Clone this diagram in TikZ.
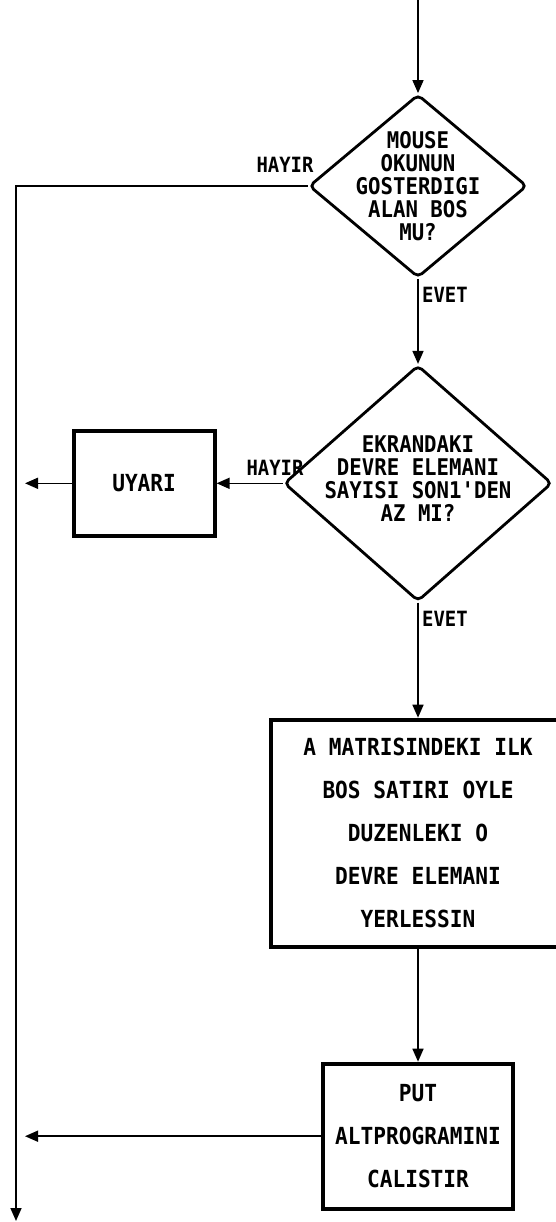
\documentclass[tikz,border=0pt]{standalone}
\usepackage{fontspec}
\newfontfamily\flowfont[FakeStretch=0.9]{DejaVu Sans Mono}
\usetikzlibrary{positioning,arrows.meta,shapes.geometric}

\begin{document}
\begin{tikzpicture}[x=1pt, y=-1pt, font=\flowfont\bfseries\fontsize{23}{23}\selectfont,
  decision/.style={draw, diamond, line width=2.8pt, rounded corners=5pt, inner sep=0pt},
  qtext/.style={align=center, inner sep=0pt},
  box/.style={draw, rectangle, line width=4pt, align=center, inner sep=0pt, font=\flowfont\bfseries\fontsize{23.5}{43}\selectfont},
  lbl/.style={inner sep=0pt, font=\flowfont\bfseries\fontsize{21}{21}\selectfont},
  arr/.style={-{Triangle[length=13pt, width=11pt]}, line width=1.6pt}]
\clip (0,0) rectangle (556,1222);
\coordinate (start) at (418,0);
\coordinate (down) at (16,1221);
\coordinate (side) at (25,0);
\node[decision, minimum width=218pt, minimum height=183pt] (q1) at (418,186) {};
\node[qtext] (q1t) at (q1) {MOUSE\\OKUNUN\\GOSTERDIGI\\ALAN BOS\\MU?};
\node[decision, minimum width=268pt, minimum height=236pt, below=85pt of q1] (q2) {};
\node[qtext, yshift=5pt] (q2t) at (q2) {EKRANDAKI\\DEVRE ELEMANI\\SAYISI SON1'DEN\\AZ MI?};
\node[box, minimum width=141pt, minimum height=105pt, left=66pt of q2] (uyari) {UYARI};
\node[box, minimum width=294pt, minimum height=227pt, below=115pt of q2] (yerles) {A MATRISINDEKI ILK\\BOS SATIRI OYLE\\DUZENLEKI O\\DEVRE ELEMANI\\YERLESSIN};
\node[box, minimum width=190pt, minimum height=145pt, below=113pt of yerles] (put) {PUT\\ALTPROGRAMINI\\CALISTIR};
\node[lbl, anchor=base east, xshift=6pt, yshift=13pt] (hayir1) at (q1.west) {HAYIR};
\node[lbl, anchor=base west, xshift=4pt, yshift=-24pt] (evet1) at (q1.south) {EVET};
\node[lbl, anchor=base east, xshift=21pt, yshift=8pt] (hayir2) at (q2.west) {HAYIR};
\node[lbl, anchor=base west, xshift=4pt, yshift=-24pt] (evet2) at (q2.south) {EVET};
\draw[arr] (start) -- (q1.north);
\draw[arr] (q1.south) -- (q2.north);
\draw[arr] (q2.south) -- (yerles.north);
\draw[arr] (yerles.south) -- (put.north);
\draw[arr] (q2.west) -- (uyari.east);
\draw[arr] (uyari.west) -- (uyari.west -| side);
\draw[arr] (put.west) -- (put.west -| side);
\draw[arr] (q1.west) -| (down);
\end{tikzpicture}
\end{document}
